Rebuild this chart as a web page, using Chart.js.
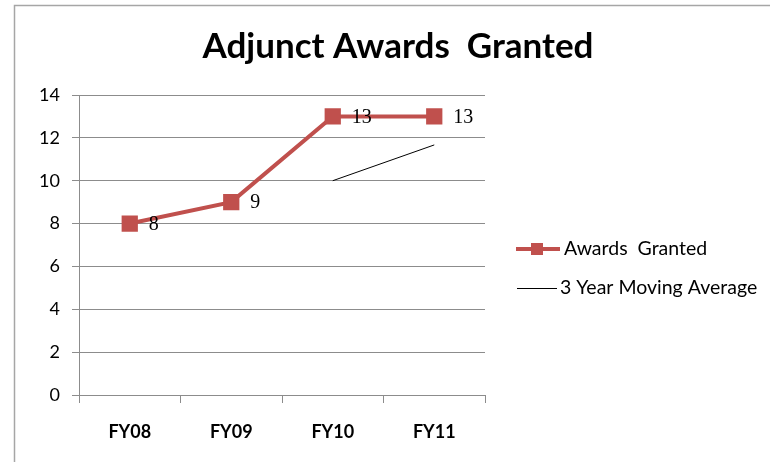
<!DOCTYPE html>
<html>
<head>
<meta charset="utf-8">
<script src="https://cdn.jsdelivr.net/npm/chart.js@4.4.0/dist/chart.umd.min.js"></script>
<style>
html,body{margin:0;padding:0;background:#fff;}
#wrap{position:relative;width:770px;height:462px;}
</style>
</head>
<body>
<div id="wrap"><canvas id="c" width="770" height="462"></canvas></div>
<script>
const categories = ["FY08", "FY09", "FY10", "FY11"];
const awardsGranted = [8, 9, 13, 13];
const movingAverage = [null, null, 10, 11.67];
const yTicks = [0, 2, 4, 6, 8, 10, 12, 14];
const seriesNames = ["Awards  Granted", "3 Year Moving Average"];
const titleText = "Adjunct Awards  Granted";

const RED = "#c0504d";

const framePlugin = {
  id: "frame",
  beforeDraw(chart) {
    const ctx = chart.ctx;
    ctx.save();
    ctx.fillStyle = "#fff";
    ctx.fillRect(0, 0, chart.width, chart.height);
    ctx.strokeStyle = "#a6a6a6";
    ctx.lineWidth = 1.5;
    ctx.strokeRect(14.5, 5.5, 800, 500);
    // title
    ctx.fillStyle = "#000";
    ctx.font = "bold 35px Lato";
    ctx.textAlign = "center";
    ctx.textBaseline = "middle";
    ctx.fillText(titleText, 398, 47);
    ctx.restore();
  }
};

const labelPlugin = {
  id: "pointLabels",
  afterDatasetsDraw(chart) {
    const ctx = chart.ctx;
    const meta = chart.getDatasetMeta(0);
    ctx.save();
    ctx.font = "20px 'Liberation Serif'";
    ctx.fillStyle = "#000";
    ctx.textAlign = "left";
    ctx.textBaseline = "middle";
    meta.data.forEach((pt, i) => {
      ctx.fillText(String(awardsGranted[i]), pt.x + 19, pt.y + 1);
    });
    ctx.restore();
  }
};

const legendPlugin = {
  id: "customLegend",
  afterDraw(chart) {
    const ctx = chart.ctx;
    const ds = chart.data.datasets;
    ctx.save();
    ctx.font = "19.5px Lato";
    ctx.textBaseline = "middle";
    ctx.textAlign = "left";
    // series 1
    const y0 = 249;
    ctx.strokeStyle = ds[0].borderColor;
    ctx.lineWidth = 4;
    ctx.beginPath(); ctx.moveTo(516, y0); ctx.lineTo(560, y0); ctx.stroke();
    ctx.fillStyle = ds[0].pointBackgroundColor;
    ctx.fillRect(531, y0 - 6, 12, 12);
    ctx.fillStyle = "#000";
    ctx.fillText(ds[0].label, 564, y0);
    // series 2
    const y1 = 288;
    ctx.strokeStyle = ds[1].borderColor;
    ctx.lineWidth = 1;
    ctx.beginPath(); ctx.moveTo(517, y1 + 0.5); ctx.lineTo(557, y1 + 0.5); ctx.stroke();
    ctx.fillStyle = "#000";
    ctx.fillText(ds[1].label, 560, y1);
    ctx.restore();
  }
};

new Chart(document.getElementById("c"), {
  type: "line",
  data: {
    labels: categories,
    datasets: [
      {
        label: seriesNames[0],
        data: awardsGranted,
        borderColor: RED,
        backgroundColor: RED,
        pointBackgroundColor: RED,
        pointBorderColor: RED,
        borderWidth: 4,
        pointStyle: "rect",
        pointRadius: 11.5,
        pointBorderWidth: 0,
        tension: 0
      },
      {
        label: seriesNames[1],
        data: movingAverage,
        borderColor: "#000",
        backgroundColor: "#000",
        borderWidth: 1,
        pointRadius: 0,
        tension: 0
      }
    ]
  },
  options: {
    responsive: false,
    animation: false,
    layout: { padding: { left: 20, right: 285, top: 95, bottom: 10 } },
    plugins: {
      legend: { display: false },
      tooltip: { enabled: false },
      title: { display: false }
    },
    scales: {
      x: {
        offset: true,
        grid: {
          offset: true,
          drawOnChartArea: false,
          drawTicks: true,
          tickLength: 8,
          color: "#8c8c8c",
          lineWidth: 1
        },
        border: { color: "#8c8c8c", width: 1 },
        ticks: {
          color: "#000",
          font: { family: "Lato", size: 18, weight: "bold" },
          padding: 18
        },
        afterFit(s) { s.height = 57; }
      },
      y: {
        min: 0,
        max: 14,
        afterBuildTicks(s) { s.ticks = yTicks.map(v => ({ value: v })); },
        grid: {
          color: "#8c8c8c",
          lineWidth: 1,
          tickLength: 7
        },
        border: { color: "#8c8c8c", width: 1 },
        ticks: {
          color: "#000",
          font: { family: "Lato", size: 18 },
          padding: 12
        },
        afterFit(s) { s.width = 59; }
      }
    }
  },
  plugins: [framePlugin, labelPlugin, legendPlugin]
});
</script>
</body>
</html>
